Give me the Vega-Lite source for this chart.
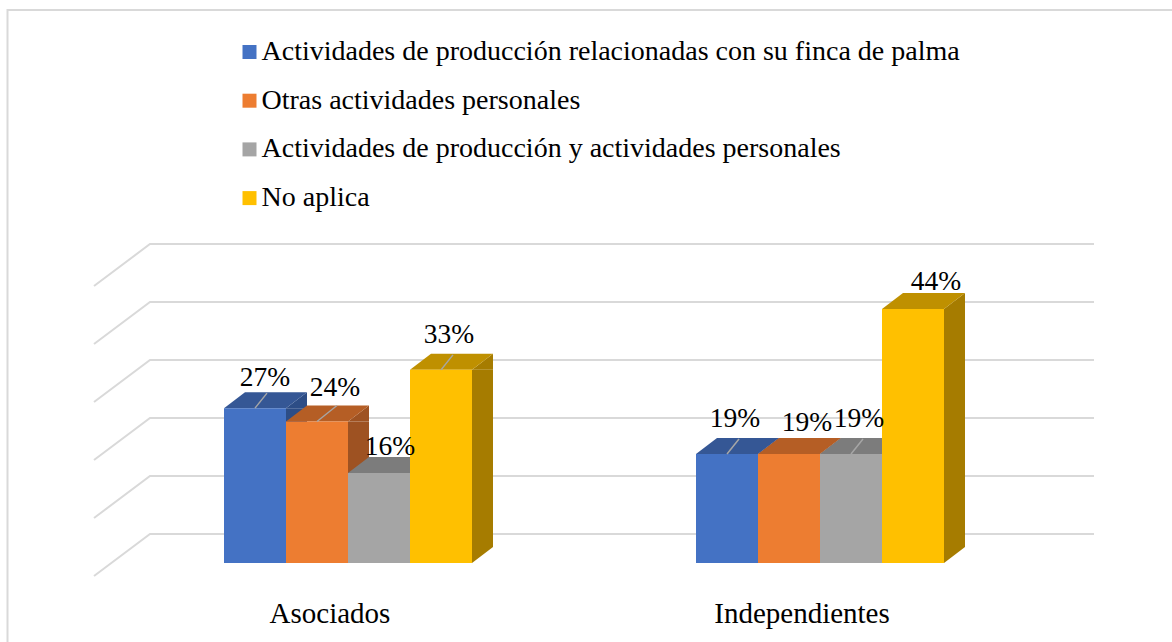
{
"$schema":"https://vega.github.io/schema/vega-lite/v6.json",
"autosize":{"type":"none"},
"padding":{"left":7.5,"top":10,"right":0,"bottom":0},
"width":1175,"height":640,
"background":"white",
"view":{"stroke":"#D9D9D9","strokeWidth":2,"fill":"white"},
"data":{"values":[
{"grupo":"Asociados","serie":"Actividades de producción relacionadas con su finca de palma","valor":0.267},
{"grupo":"Asociados","serie":"Otras actividades personales","valor":0.244},
{"grupo":"Asociados","serie":"Actividades de producción y actividades personales","valor":0.155},
{"grupo":"Asociados","serie":"No aplica","valor":0.333},
{"grupo":"Independientes","serie":"Actividades de producción relacionadas con su finca de palma","valor":0.188},
{"grupo":"Independientes","serie":"Otras actividades personales","valor":0.188},
{"grupo":"Independientes","serie":"Actividades de producción y actividades personales","valor":0.188},
{"grupo":"Independientes","serie":"No aplica","valor":0.438}
]},
"encoding":{
"x":{"field":"grupo","type":"nominal","title":null,"sort":null,
"scale":{"type":"band","domain":["Asociados","Independientes"],"range":[104.5,1048.5],"paddingInner":0,"paddingOuter":0},
"axis":{"orient":"bottom","offset":-51,"domain":false,"ticks":false,"grid":false,"labelAngle":0,"labelOffset":-18,"labelPadding":0,"labelFont":"Liberation Serif","labelFontSize":29,"labelColor":"#000000","labelOverlap":false,"labelFlush":false,"labelBaseline":"top"}},
"xOffset":{"field":"serie","type":"nominal","sort":null,"scale":{"type":"band","domain":["Actividades de producción relacionadas con su finca de palma","Otras actividades personales","Actividades de producción y actividades personales","No aplica"],"range":[112,360],"paddingInner":0,"paddingOuter":0}},
"y":{"field":"valor","type":"quantitative","title":null,"axis":null,
"scale":{"domain":[0,0.5],"range":[553,263],"nice":false,"zero":true}}
},
"layer":[
{"data":{"values":[{"nivel":0},{"nivel":0.1},{"nivel":0.2},{"nivel":0.3},{"nivel":0.4},{"nivel":0.5}]},
"mark":{"type":"point","shape":"M-18,13L38,-29H982","size":4,"filled":false,"stroke":"#D9D9D9","strokeWidth":2,"opacity":1},
"encoding":{"x":{"datum":"Asociados","type":"nominal","bandPosition":0},"xOffset":null,"y":{"field":"nivel","type":"quantitative"}}},
{"mark":{"type":"bar"},
"encoding":{"xOffset":{"field":"serie","type":"nominal","sort":null,"scale":{"type":"band","range":[174,381],"paddingInner":0.661,"paddingOuter":0}},"y2":{"datum":0.0276},"color":{"field":"serie","type":"nominal","sort":null,"legend":null,"scale":{"range":["#2D4D86","#9E5222","#6F6F6F","#A67C00"]}}}},
{"mark":{"type":"point","shape":"M31,0L52,-16V0Z","size":4,"filled":true,"opacity":1,"strokeWidth":0},
"encoding":{"color":{"field":"serie","type":"nominal","sort":null,"legend":null,"scale":{"range":["#2D4D86","#9E5222","#6F6F6F","#A67C00"]}}}},
{"mark":{"type":"point","shape":"M31,0L52,-16H31Z","size":4,"filled":true,"opacity":1,"strokeWidth":0},
"encoding":{"y":{"datum":0,"type":"quantitative"},"color":{"field":"serie","type":"nominal","sort":null,"legend":null,"scale":{"range":["#2D4D86","#9E5222","#6F6F6F","#A67C00"]}}}},
{"mark":{"type":"point","shape":"M-31,0H31L52,-16H-10Z","size":4,"filled":true,"opacity":1,"strokeWidth":0},
"encoding":{"color":{"field":"serie","type":"nominal","sort":null,"legend":null,"scale":{"range":["#355795","#B55E25","#7C7C7C","#BF9000"]}}}},
{"mark":{"type":"bar"},
"encoding":{"y2":{"datum":0},"color":{"field":"serie","type":"nominal","sort":null,"title":null,
"scale":{"range":["#4472C4","#ED7D31","#A5A5A5","#FFC000"]},
"legend":{"orient":"none","legendX":228,"legendY":28,"direction":"vertical","columns":1,"symbolType":"square","symbolSize":196,"symbolStrokeWidth":0,"symbolOpacity":1,"labelFont":"Liberation Serif","labelFontSize":28,"labelColor":"#000000","labelLimit":900,"labelOffset":-2,"rowPadding":20.7,"padding":0}}}},
{"transform":[{"filter":"datum.valor!=0.155 && !(datum.grupo=='Independientes' && datum.serie=='Otras actividades personales') && datum.valor!=0.438 && datum.valor!=0.244"}],
"mark":{"type":"point","shape":"M0,0L12,-15","size":4,"filled":false,"stroke":"#A6A6A6","strokeWidth":1.5,"opacity":1}},
{"transform":[{"filter":"datum.valor==0.244"}],
"mark":{"type":"point","shape":"M0,0L20,-16","size":4,"filled":false,"stroke":"#A6A6A6","strokeWidth":1.5,"opacity":1}},
{"transform":[{"filter":"datum.valor==0.267"}],
"mark":{"type":"text","font":"Liberation Serif","fontSize":27.5,"color":"#000000","baseline":"middle","dx":10,"dy":-30},"encoding":{"text":{"field":"valor","type":"quantitative","format":".0%"}}},
{"transform":[{"filter":"datum.valor==0.244"}],
"mark":{"type":"text","font":"Liberation Serif","fontSize":27.5,"color":"#000000","baseline":"middle","dx":18,"dy":-33},"encoding":{"text":{"field":"valor","type":"quantitative","format":".0%"}}},
{"transform":[{"filter":"datum.valor==0.155"}],
"mark":{"type":"text","font":"Liberation Serif","fontSize":27.5,"color":"#000000","baseline":"middle","dx":11,"dy":-26},"encoding":{"text":{"field":"valor","type":"quantitative","format":".0%"}}},
{"transform":[{"filter":"datum.valor==0.333 || (datum.valor==0.188 && datum.serie!='Otras actividades personales')"}],
"mark":{"type":"text","font":"Liberation Serif","fontSize":27.5,"color":"#000000","baseline":"middle","dx":8,"dy":-35},"encoding":{"text":{"field":"valor","type":"quantitative","format":".0%"}}},
{"transform":[{"filter":"datum.valor==0.188 && datum.serie=='Otras actividades personales'"}],
"mark":{"type":"text","font":"Liberation Serif","fontSize":27.5,"color":"#000000","baseline":"middle","dx":18,"dy":-31},"encoding":{"text":{"field":"valor","type":"quantitative","format":".0%"}}},
{"transform":[{"filter":"datum.valor==0.438"}],
"mark":{"type":"text","font":"Liberation Serif","fontSize":27.5,"color":"#000000","baseline":"middle","dx":23,"dy":-27},"encoding":{"text":{"field":"valor","type":"quantitative","format":".0%"}}}
],
"resolve":{"scale":{"color":"independent","xOffset":"independent"}}
}
